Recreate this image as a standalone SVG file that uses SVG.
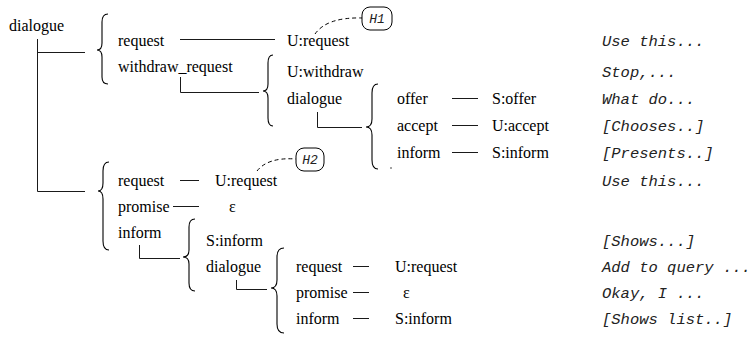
<svg xmlns="http://www.w3.org/2000/svg" width="754" height="340" viewBox="0 0 754 340">
<style>
.t{font-family:"Liberation Serif","Times New Roman",serif;font-size:16px;fill:#000}
.m{font-family:"Liberation Mono","Courier New",monospace;font-size:15.5px;font-style:italic;fill:#222}
.h{font-family:"Liberation Mono","Courier New",monospace;font-size:13px;font-style:italic;fill:#222}
.ln{stroke:#1a1a1a;stroke-width:1;fill:none}
.br{stroke:#000;stroke-width:1.1;fill:none}
.ds{stroke:#000;stroke-width:1;fill:none;stroke-dasharray:4 3}
.bx{stroke:#000;stroke-width:1;fill:#fff}
</style>
<rect width="754" height="340" fill="#fff"/>
<g id="connectors">
  <path class="ln" d="M37.5 39 V191.5 M37.5 52.5 H85 M37.5 191.5 H85"/>
  <path class="ln" d="M180 39.5 H275"/>
  <path class="ln" d="M180.5 77 V92.5 H259"/>
  <path class="ln" d="M317.5 112 V127.5 H362"/>
  <path class="ln" d="M452 98.5 H478 M452 125.5 H478 M452 152.5 H478"/>
  <path class="ln" d="M180 180.5 H199 M173 206.5 H199"/>
  <path class="ln" d="M139.5 245 V258.5 H180"/>
  <path class="ln" d="M236.5 280 V289.5 H267"/>
  <path class="ln" d="M353 266.5 H369 M353 292.5 H369 M353 318.5 H369"/>
  <path class="ds" d="M315 34 Q327 17 362 18"/>
  <path class="ds" d="M257 171 Q268 157 296 159"/>
  <circle cx="391" cy="168" r="0.7" fill="#000"/>
  <path class="br" d="M108 14 Q102 14 102 22 L102 43 Q102 50 97 50 Q102 50 102 57 L102 77 Q102 84 108 84"/>
  <path class="br" d="M273 55 Q268 55 268 63 L268 84 Q268 91 263 91 Q268 91 268 98 L268 118 Q268 126 273 126"/>
  <path class="br" d="M378 84 Q372 84 372 93 L372 119 Q372 127 366 127 Q372 127 372 135 L372 160 Q372 169 378 169"/>
  <path class="br" d="M109 162 Q103 162 103 171 L103 183 Q103 191 98 191 Q103 191 103 199 L103 241 Q103 250 109 250"/>
  <path class="br" d="M195 219 Q189 219 189 227 L189 250 Q189 257 183 257 Q189 257 189 264 L189 283 Q189 291 195 291"/>
  <path class="br" d="M284 248 Q277 248 277 257 L277 280 Q277 288 271 288 Q277 288 277 296 L277 324 Q277 333 284 333"/>
</g>
<g id="root"><text class="t" x="9" y="31">dialogue</text></g>
<g id="n-request1"><text class="t" x="118" y="46">request</text></g>
<g id="n-withdraw"><text class="t" x="118" y="72">withdraw_request</text></g>
<g id="n-urequest1"><text class="t" x="287" y="46">U:request</text></g>
<g id="n-h1"><rect class="bx" x="362" y="7" width="30" height="23" rx="8"/><text class="h" x="377" y="23" text-anchor="middle">H1</text></g>
<g id="n-uwithdraw"><text class="t" x="287" y="77">U:withdraw</text></g>
<g id="n-dialogue2"><text class="t" x="287" y="104">dialogue</text></g>
<g id="n-offer"><text class="t" x="397" y="104">offer</text><text class="t" x="492" y="104">S:offer</text></g>
<g id="n-accept"><text class="t" x="397" y="131">accept</text><text class="t" x="492" y="131">U:accept</text></g>
<g id="n-inform1"><text class="t" x="397" y="158">inform</text><text class="t" x="492" y="158">S:inform</text></g>
<g id="n-request2"><text class="t" x="118" y="186">request</text><text class="t" x="215" y="186">U:request</text></g>
<g id="n-h2"><rect class="bx" x="296" y="148" width="28" height="23" rx="8"/><text class="h" x="310" y="164" text-anchor="middle">H2</text></g>
<g id="n-promise1"><text class="t" x="118" y="212">promise</text><text class="t" x="229" y="212">ε</text></g>
<g id="n-inform2"><text class="t" x="118" y="238">inform</text></g>
<g id="n-sinform2"><text class="t" x="206" y="246">S:inform</text></g>
<g id="n-dialogue3"><text class="t" x="206" y="272">dialogue</text></g>
<g id="n-request3"><text class="t" x="296" y="272">request</text><text class="t" x="395" y="272">U:request</text></g>
<g id="n-promise2"><text class="t" x="296" y="298">promise</text><text class="t" x="403" y="298">ε</text></g>
<g id="n-inform3"><text class="t" x="296" y="324">inform</text><text class="t" x="395" y="324">S:inform</text></g>
<g id="utterances">
  <text class="m" x="602" y="46">Use this...</text>
  <text class="m" x="602" y="77">Stop,...</text>
  <text class="m" x="602" y="104">What do...</text>
  <text class="m" x="602" y="131">[Chooses..]</text>
  <text class="m" x="602" y="158">[Presents..]</text>
  <text class="m" x="602" y="186">Use this...</text>
  <text class="m" x="602" y="246">[Shows...]</text>
  <text class="m" x="602" y="272">Add to query ...</text>
  <text class="m" x="602" y="298">Okay, I ...</text>
  <text class="m" x="602" y="324">[Shows list..]</text>
</g>
</svg>
